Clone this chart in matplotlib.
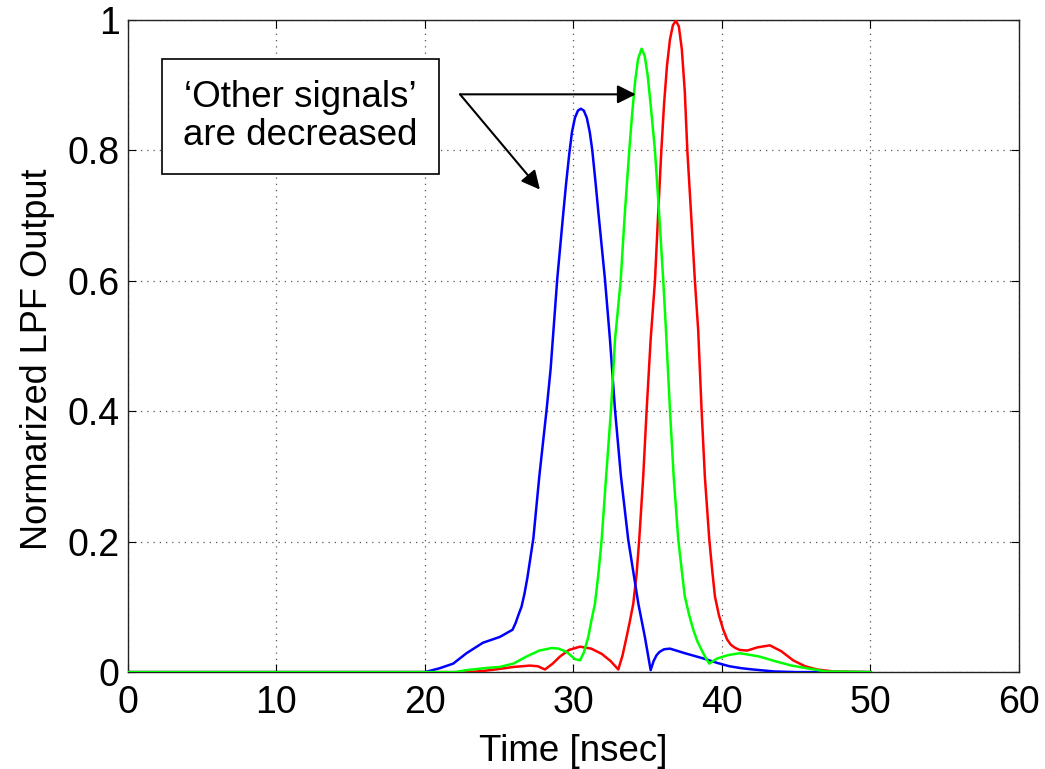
import matplotlib
matplotlib.use("Agg")
import matplotlib.pyplot as plt

plt.rcParams['font.family'] = ['Liberation Sans', 'DejaVu Sans']

# ---- data ----
blue_t = [0, 20.0, 20.5, 21.0, 21.9, 22.8, 23.9, 25.05, 25.9, 26.1, 26.3, 26.5, 26.7, 26.9, 27.1,
          27.3, 27.7, 28.19, 28.46, 28.91, 29.3, 29.5, 29.72, 29.9, 30.1, 30.3, 30.5, 30.7, 30.9,
          31.1, 31.27, 31.5, 31.7, 32.12, 32.46, 32.8, 33.2, 33.69, 34.37, 34.81, 35.2, 35.4, 35.6,
          35.8, 36.1, 36.5, 37.5, 38.74, 39.7, 40.5, 41.3, 42.1, 43.5, 45.0, 50.0]
blue_y = [0, 0, 0.003, 0.006, 0.013, 0.029, 0.045, 0.054, 0.065, 0.075, 0.088, 0.100, 0.120, 0.145,
          0.175, 0.205, 0.30, 0.402, 0.464, 0.603, 0.70, 0.748, 0.795, 0.828, 0.850, 0.861, 0.864,
          0.861, 0.850, 0.828, 0.800, 0.748, 0.70, 0.603, 0.51, 0.402, 0.30, 0.203, 0.105, 0.054,
          0.003, 0.017, 0.026, 0.031, 0.035, 0.036, 0.029, 0.021, 0.014, 0.009, 0.006, 0.004,
          0.001, 0, 0]

green_t = [0, 22.0, 22.8, 24.0, 25.05, 25.95, 26.85, 27.7, 28.55, 29.0, 29.54, 30.1, 30.44, 30.7,
           31.0, 31.2, 31.45, 31.7, 31.9, 32.2, 32.53, 32.8, 33.18, 33.45, 33.76, 33.95, 34.15,
           34.35, 34.59, 34.8, 35.0, 35.2, 35.49, 35.78, 36.05, 36.23, 36.5, 36.75, 37.06, 37.3,
           37.5, 37.8, 38.07, 38.35, 38.63, 38.9, 39.15, 39.4, 39.7, 40.4, 41.2, 42.5, 43.7, 44.7,
           45.7, 47.0, 50.0]
green_y = [0, 0, 0.003, 0.006, 0.008, 0.013, 0.024, 0.033, 0.037, 0.036, 0.031, 0.020, 0.018, 0.030,
           0.054, 0.078, 0.105, 0.155, 0.203, 0.30, 0.402, 0.51, 0.60, 0.70, 0.80, 0.855, 0.905,
           0.940, 0.956, 0.945, 0.915, 0.870, 0.80, 0.70, 0.60, 0.525, 0.402, 0.30, 0.203, 0.155,
           0.116, 0.087, 0.065, 0.047, 0.034, 0.022, 0.013, 0.017, 0.021, 0.026, 0.029, 0.024,
           0.016, 0.010, 0.006, 0.001, 0]

red_t = [0, 23.0, 24.0, 25.05, 26.0, 27.07, 27.6, 28.08, 28.6, 29.1, 29.7, 30.44, 31.2, 31.9, 32.5,
         33.02, 33.3, 33.58, 33.8, 34.03, 34.25, 34.43, 34.7, 34.93, 35.2, 35.49, 35.7, 35.92, 36.1,
         36.3, 36.5, 36.7, 36.9, 37.1, 37.3, 37.5, 37.67, 37.93, 38.18, 38.4, 38.63, 38.85, 39.15,
         39.35, 39.53, 39.8, 40.09, 40.35, 40.6, 40.9, 41.2, 41.7, 42.4, 43.23, 44.0, 44.8, 45.6,
         46.4, 47.5, 50.0]
red_y = [0, 0, 0.002, 0.005, 0.008, 0.010, 0.009, 0.004, 0.013, 0.024, 0.034, 0.039, 0.036, 0.028,
         0.017, 0.004, 0.025, 0.054, 0.078, 0.105, 0.150, 0.203, 0.30, 0.402, 0.51, 0.60, 0.70,
         0.80, 0.87, 0.93, 0.97, 0.992, 0.999, 0.990, 0.955, 0.89, 0.80, 0.70, 0.60, 0.525, 0.402,
         0.30, 0.203, 0.155, 0.116, 0.087, 0.065, 0.050, 0.042, 0.037, 0.034, 0.033, 0.038, 0.041,
         0.032, 0.018, 0.009, 0.004, 0.001, 0]

x_ticks = [0, 10, 20, 30, 40, 50, 60]
y_ticks = [0, 0.2, 0.4, 0.6, 0.8, 1.0]
y_tick_labels = ["0", "0.2", "0.4", "0.6", "0.8", "1"]

annot_text = "\u2018Other signals\u2019\nare decreased"

# ---- figure ----
fig = plt.figure(figsize=(10.45, 7.69), dpi=100)
ax = fig.add_axes([0.1225, 0.126, 0.8525, 0.848])

ax.plot(red_t, red_y, color=(1, 0, 0), lw=1.8, zorder=3)
ax.plot(blue_t, blue_y, color=(0, 0, 1), lw=1.8, zorder=3)
ax.plot(green_t, green_y, color=(0, 1, 0), lw=1.8, zorder=3)

ax.set_xlim(0, 60)
ax.set_ylim(0, 1)
ax.set_xticks(x_ticks)
ax.set_xticklabels([str(v) for v in x_ticks])
ax.set_yticks(y_ticks)
ax.set_yticklabels(y_tick_labels)

ax.grid(True, linestyle=(0, (1, 4)), color='#555555', lw=0.9)
ax.tick_params(direction='in', length=6, width=0.8, top=True, right=True, labelsize=27)
ax.tick_params(axis='x', pad=9)
ax.tick_params(axis='y', pad=6)
for s in ax.spines.values():
    s.set_linewidth(1.0)
    s.set_color('#222222')

ax.set_xlabel("Time [nsec]", fontsize=26.5, labelpad=10)
ax.set_ylabel("Normarized LPF Output", fontsize=26, labelpad=9)
ax.yaxis.label.set_y(0.48)

ax.text(11.6, 0.852, annot_text, fontsize=26.5, ha='center', va='center', linespacing=1.1,
        bbox=dict(boxstyle='square,pad=0.58', fc='white', ec='black', lw=1.2), zorder=5)

arrow_props = dict(arrowstyle='-|>', color='black', lw=1.5, mutation_scale=28,
                   shrinkA=0, shrinkB=0)
ax.annotate("", xy=(34.2, 0.886), xytext=(22.36, 0.886), arrowprops=arrow_props)
ax.annotate("", xy=(27.74, 0.740), xytext=(22.36, 0.886), arrowprops=arrow_props)

fig.savefig("out.png", dpi=100)
